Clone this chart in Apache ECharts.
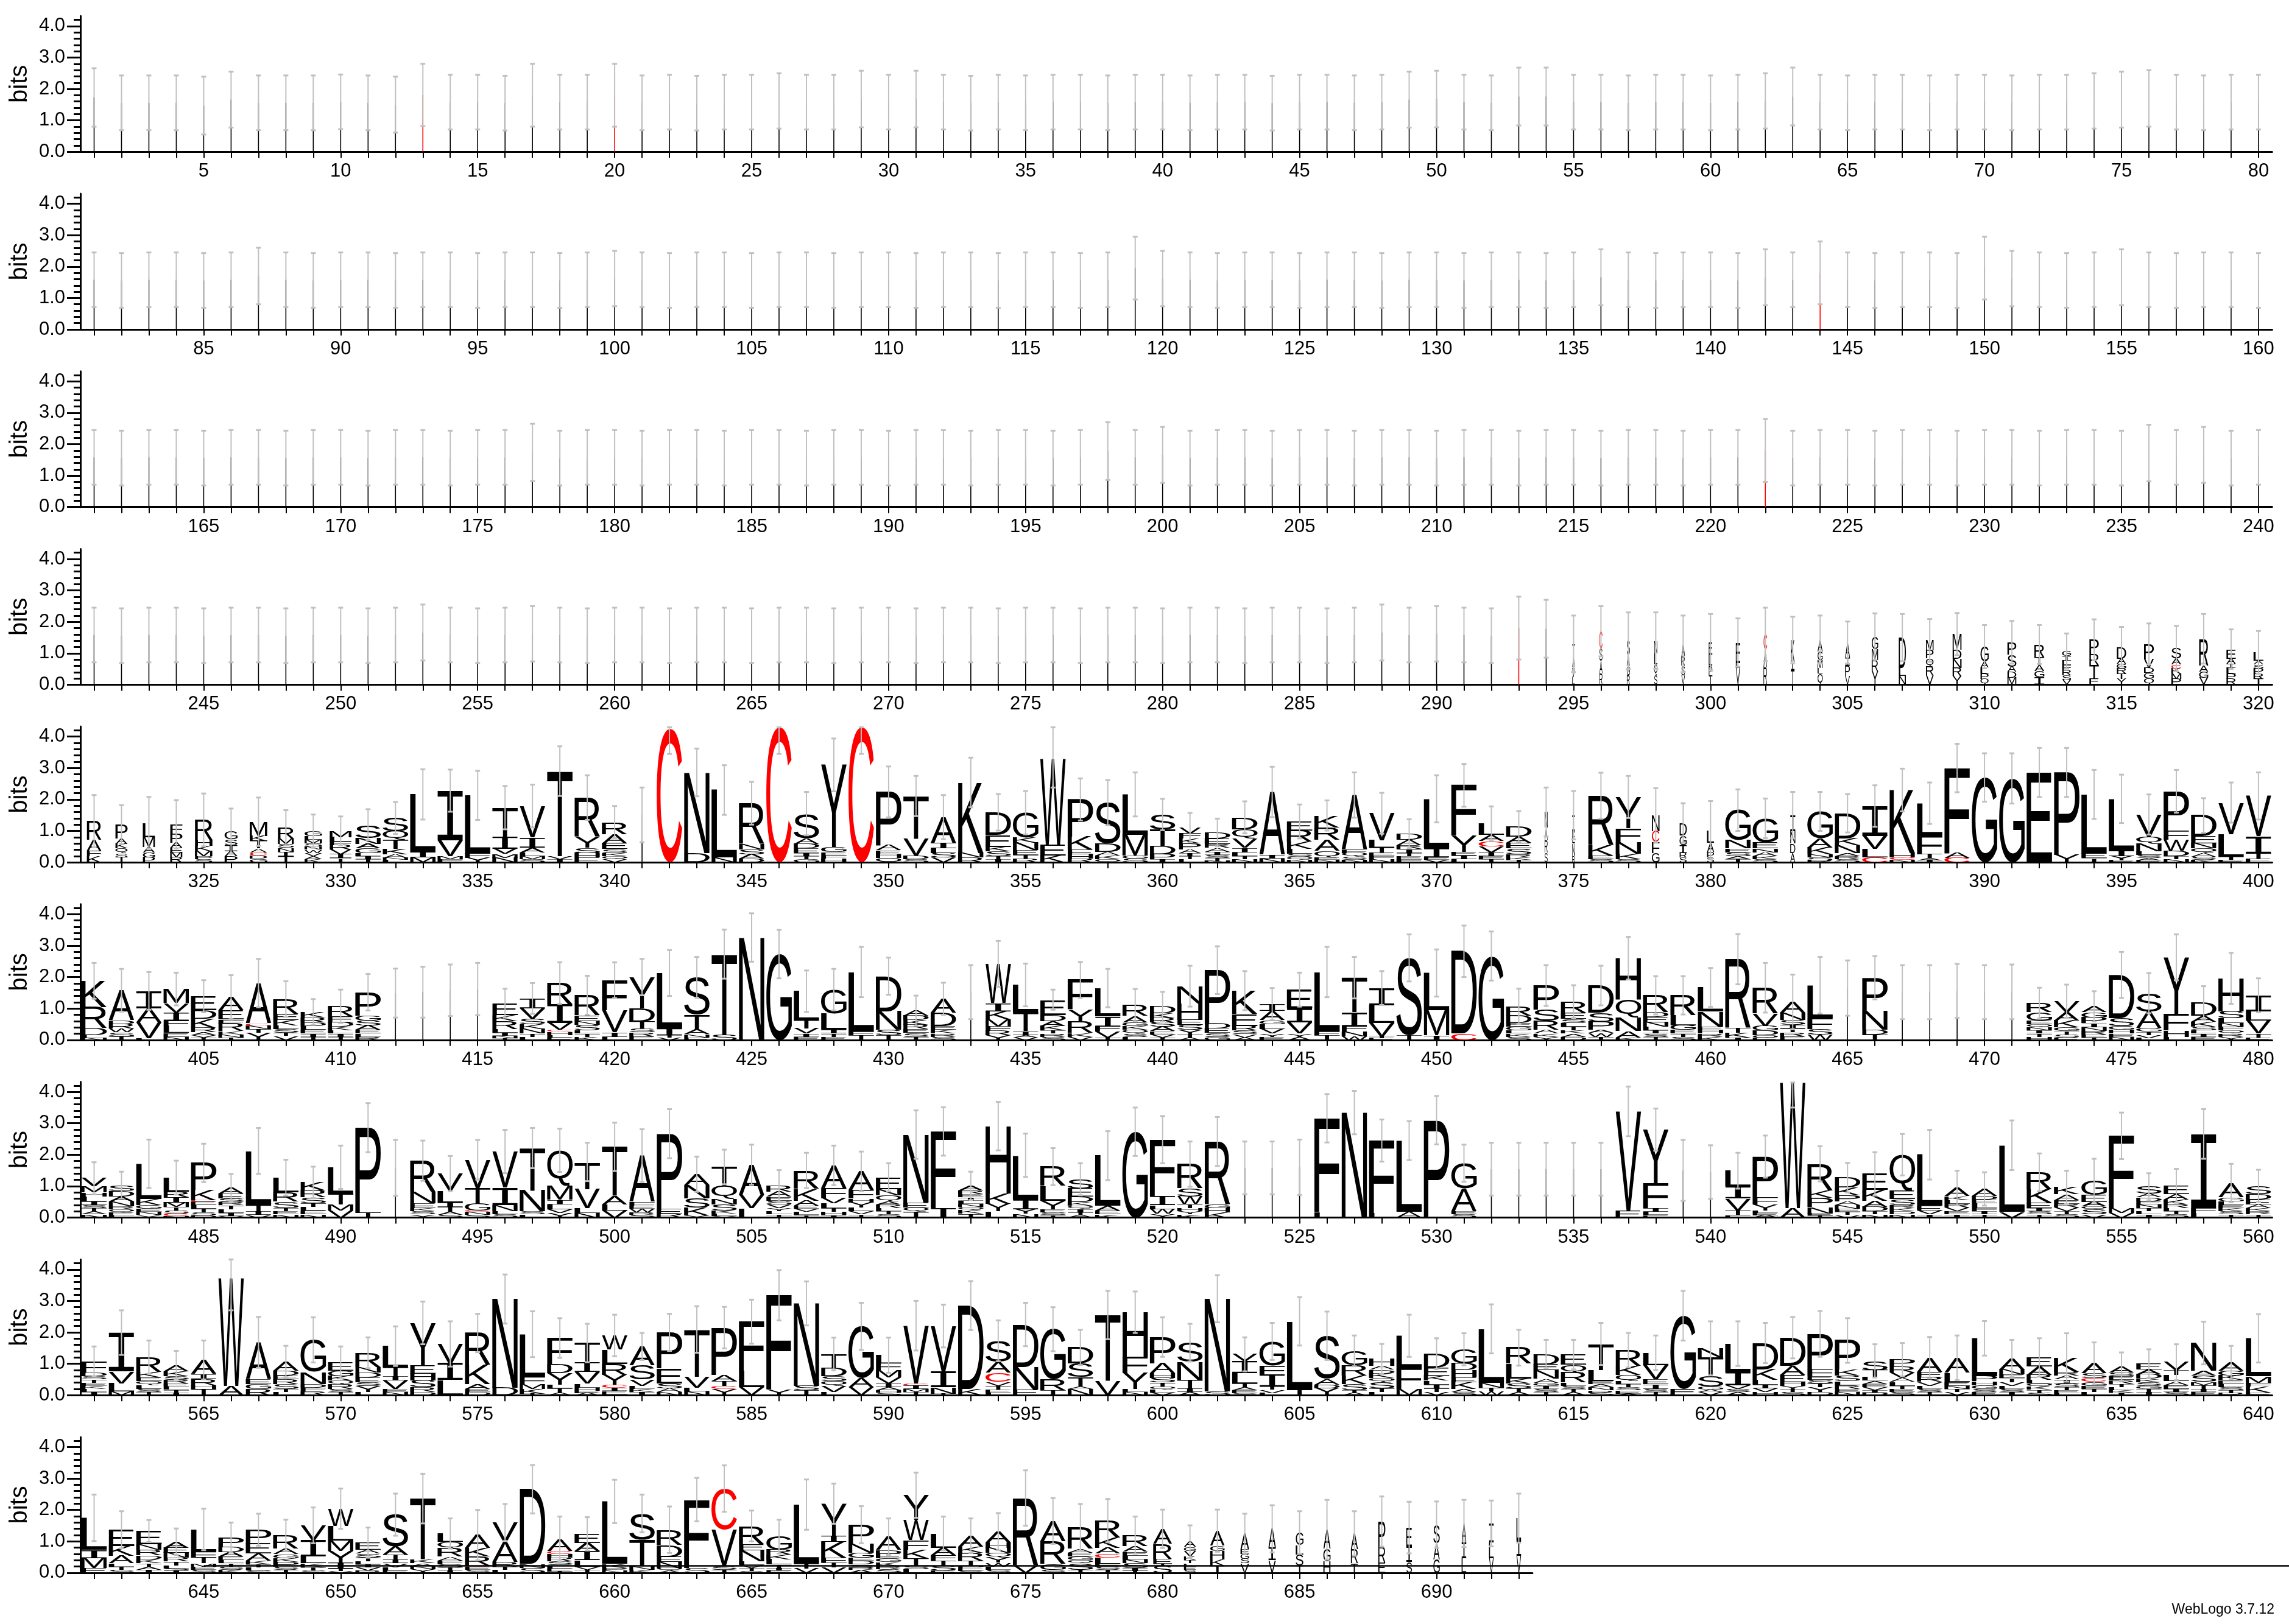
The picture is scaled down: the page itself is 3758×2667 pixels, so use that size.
<!DOCTYPE html>
<html><head><meta charset="utf-8">
<script src="https://cdn.jsdelivr.net/npm/echarts@6/dist/echarts.min.js"></script>
<style>html,body{margin:0;padding:0;background:#fff}#c{width:3758px;height:2667px}</style>
</head><body><div id="c"></div>
<script>
// ---------------- DATA ----------------
const rowStarts = [1, 81, 161, 241, 321, 401, 481, 561, 641];
const rowEnds   = [80, 160, 240, 320, 400, 480, 560, 640, 693];
const yTickValues = [0, 1, 2, 3, 4];
const yMinorTickValues = [0.2,0.4,0.6,0.8,1.2,1.4,1.6,1.8,2.2,2.4,2.6,2.8,3.2,3.4,3.6,3.8,4.2];
const bitsMax = 4.3219;
const creditText = 'WebLogo 3.7.12';

// nearly-all-gap columns 1..294 : stack height and error-bar top (bits)
const thinHeight_1_80 = [1.73,1.56,1.56,1.56,1.47,1.66,1.56,1.56,1.56,1.59,1.56,1.5,1.81,1.58,1.58,1.55,1.8,1.58,1.58,1.8,1.56,1.58,1.55,1.58,1.58,1.62,1.58,1.58,1.68,1.58,1.68,1.58,1.55,1.58,1.56,1.58,1.58,1.56,1.58,1.58,1.56,1.58,1.58,1.55,1.58,1.58,1.56,1.58,1.66,1.68,1.58,1.56,1.76,1.76,1.58,1.58,1.56,1.58,1.58,1.56,1.58,1.62,1.76,1.58,1.56,1.58,1.58,1.56,1.58,1.58,1.56,1.58,1.58,1.62,1.66,1.7,1.58,1.56,1.58,1.58];
const thinErrTop_1_80 = [2.66,2.43,2.43,2.43,2.39,2.55,2.43,2.43,2.43,2.46,2.43,2.39,2.8,2.45,2.45,2.42,2.8,2.45,2.45,2.8,2.43,2.45,2.42,2.45,2.45,2.5,2.45,2.45,2.58,2.45,2.58,2.45,2.42,2.45,2.43,2.45,2.45,2.43,2.45,2.45,2.43,2.45,2.45,2.42,2.45,2.45,2.43,2.45,2.55,2.58,2.45,2.43,2.68,2.68,2.45,2.45,2.43,2.45,2.45,2.43,2.45,2.5,2.68,2.45,2.43,2.45,2.45,2.43,2.45,2.45,2.43,2.45,2.45,2.5,2.55,2.6,2.45,2.43,2.45,2.45];
const thinHeight_81_160 = [1.58,1.56,1.58,1.58,1.56,1.58,1.7,1.58,1.56,1.58,1.58,1.56,1.58,1.58,1.56,1.58,1.58,1.56,1.58,1.62,1.58,1.56,1.58,1.58,1.56,1.58,1.58,1.56,1.58,1.58,1.56,1.58,1.58,1.56,1.58,1.58,1.56,1.58,1.95,1.62,1.58,1.56,1.58,1.58,1.56,1.58,1.58,1.56,1.58,1.58,1.56,1.58,1.58,1.56,1.58,1.66,1.58,1.56,1.58,1.58,1.56,1.66,1.58,1.8,1.58,1.56,1.58,1.58,1.56,1.95,1.62,1.58,1.56,1.58,1.66,1.58,1.56,1.58,1.58,1.56];
const thinErrTop_81_160 = [2.45,2.43,2.45,2.45,2.43,2.45,2.6,2.45,2.43,2.45,2.45,2.43,2.45,2.45,2.43,2.45,2.45,2.43,2.45,2.5,2.45,2.43,2.45,2.45,2.43,2.45,2.45,2.43,2.45,2.45,2.43,2.45,2.45,2.43,2.45,2.45,2.43,2.45,2.95,2.5,2.45,2.43,2.45,2.45,2.43,2.45,2.45,2.43,2.45,2.45,2.43,2.45,2.45,2.43,2.45,2.55,2.45,2.43,2.45,2.45,2.43,2.55,2.45,2.8,2.45,2.43,2.45,2.45,2.43,2.95,2.5,2.45,2.43,2.45,2.55,2.45,2.43,2.45,2.45,2.43];
const thinHeight_161_240 = [1.58,1.56,1.58,1.58,1.56,1.58,1.58,1.56,1.58,1.58,1.56,1.58,1.58,1.56,1.58,1.58,1.74,1.56,1.58,1.58,1.56,1.58,1.58,1.56,1.58,1.58,1.56,1.58,1.58,1.56,1.58,1.58,1.56,1.58,1.58,1.56,1.58,1.78,1.58,1.66,1.56,1.58,1.58,1.56,1.58,1.58,1.56,1.58,1.58,1.56,1.58,1.58,1.56,1.58,1.58,1.56,1.58,1.58,1.56,1.58,1.58,1.8,1.56,1.58,1.58,1.56,1.58,1.58,1.56,1.58,1.58,1.56,1.58,1.58,1.56,1.72,1.58,1.66,1.56,1.58];
const thinErrTop_161_240 = [2.45,2.43,2.45,2.45,2.43,2.45,2.45,2.43,2.45,2.45,2.43,2.45,2.45,2.43,2.45,2.45,2.65,2.43,2.45,2.45,2.43,2.45,2.45,2.43,2.45,2.45,2.43,2.45,2.45,2.43,2.45,2.45,2.43,2.45,2.45,2.43,2.45,2.7,2.45,2.55,2.43,2.45,2.45,2.43,2.45,2.45,2.43,2.45,2.45,2.43,2.45,2.45,2.43,2.45,2.45,2.43,2.45,2.45,2.43,2.45,2.45,2.8,2.43,2.45,2.45,2.43,2.45,2.45,2.43,2.45,2.45,2.43,2.45,2.45,2.43,2.62,2.45,2.55,2.43,2.45];
const thinHeight_241_294 = [1.58,1.56,1.58,1.58,1.56,1.58,1.58,1.56,1.58,1.58,1.56,1.58,1.66,1.58,1.56,1.58,1.62,1.58,1.56,1.58,1.58,1.56,1.58,1.58,1.56,1.58,1.58,1.56,1.58,1.58,1.56,1.58,1.58,1.56,1.58,1.58,1.56,1.58,1.58,1.56,1.58,1.58,1.56,1.58,1.58,1.56,1.58,1.66,1.58,1.62,1.58,1.56,1.8,1.78];
const thinErrTop_241_294 = [2.45,2.43,2.45,2.45,2.43,2.45,2.45,2.43,2.45,2.45,2.43,2.45,2.55,2.45,2.43,2.45,2.5,2.45,2.43,2.45,2.45,2.43,2.45,2.45,2.43,2.45,2.45,2.43,2.45,2.45,2.43,2.45,2.45,2.43,2.45,2.45,2.43,2.45,2.45,2.43,2.45,2.45,2.43,2.45,2.45,2.43,2.45,2.55,2.45,2.5,2.45,2.43,2.8,2.7];
const redThinColumns = [13, 20, 144, 222, 293];

// letter stacks: top -> bottom, "Letter+bits"; "w.x:" = column weight; "~h" = near-empty column
const stacks_295_320 = ["w.1:T.4 A.35 V.3 L.25","w.12:C.55 S.4 A.4 R.35","w.12:S.45 A.35 G.3 R.3","w.12:N.4 L.35 Q.35 S.3","w.14:A.4 R.3 S.3 V.3","w.14:E.4 L.35 P.3 T.3","w.17:E.65 L.15 V.54","w.14:C.48 A.58 R.54","w.14:K.7 I.24 T.48","w.2:A.38 G.29 M.24 L.18 Q.35","w.19:A.48 I.25 P.33 V.28","w.25:G.4 M.35 R.35 Y.43","w.28:D.96 L.26 N.28","w.3:M.31 P.26 Q.26 R.29 V.29","w.35:M.49 D.29 N.29 R.26 Y.28","w.32:G.48 A.19 L.19 P.16 Q.19","w.35:P.4 S.38 A.16 D.19 M.22","w.39:R.4 T.25 A.2 G.2 I.23","w.35:G.15 I.15 L.15 F.15 R.17 S.15 V.15","w.37:P.46 R.35 T.42 E.2","w.37:D.38 A.16 G.16 R.16 T.16 Y.19","w.39:P.48 V.29 D.16 G.18 Q.19","w.39:S.32 A.19 C.13 K.16 M.16 P.19","w.36:R.86 A.19 G.19 V.22","w.37:E.3 A.16 I.13 L.19 P.16 R.19","w.39:L.26 A.13 S.13 P.16 R.16 T.19"];
const errTop_295_320 = [2.2,2.5,2.3,2.3,2.2,2.25,2.11,2.45,2.16,2.2,2.01,2.27,2.25,2.09,2.28,1.9,2.03,1.9,1.63,2.08,1.84,1.95,1.87,2.25,1.76,1.71];

const stacks_321_400 = ["w.57:R.6 A.35 F.16 K.2","w.48:P.45 A.16 K.14 Q.16 S.13 T.16","w.48:L.45 M.32 A.16 G.16 P.16","w.48:F.29 P.29 A.16 E.15 M.16 R.16","w.69:R.64 H.19 K.16 M.16 P.1 S.1","w.51:G.26 S.19 I.19 A.16 P.19","w.69:M.45 K.16 T.24 A.13 C.1 D.1 G.11","w.63:R.35 M.16 S.13 N.13 I.13 T.2","w.69:G.15 L.12 M.12 S.1 N.1 W.1 V.1 A.1 K.1","w.86:M.2 L.14 F.12 R.14 V.14 I.13 T.13",
"S.42 N.19 A.14 G.15 L.1 I.1 T.1","S.43 Q.27 T.29 K.16 A.12 N.06 L.08","L1.85 I.16 M.15","I1.58 V.5 M.1 F.1","L1.85 F.14 Y.14","T.93 I.38 V.16 M.13 N.14","V1.0 I.32 A.15 L.12 M.1 S.1","T2.7 V.1 I.1","R1.25 Y.35 S.16 H.15 E.15","R.38 A.29 E.19 S.12 K.1 Q.1 V.1",
"~1.51","C4.25","N2.56 D.3","L2.15 N.15","R1.3 N.18 S.14 A.15 D.11","C4.3","S.78 A.18 D.15 E.14 I.1 T.1 G.1","Y2.62 G.16 E.1 F.1 H.12","C4.3","P1.7 A.16 E.12 H.12 Q.14",
"T1.35 V.54 D.12 S.1","A.83 I.16 L.15 S.15 V.15","K2.24 N.15 R.15","D.72 E.38 K.14 S.15 T.1 I.1","G.8 K.16 N.24 E.14 T.12 R.12","W2.72 E.35 K.22","P1.18 K.42 E.14 H.14 R.12","S1.3 D.26 A.12 K.12 Q.1","L1.28 M.66 G.1 S.12","S.48 T.52 D.26 P.16 I.1",
"w.86:V.19 F.16 K.15 P.19 A.12 I.1 T.09 L.1","D.19 E.17 R.13 A.12 I.1 S.1 T.1 N.04","D.38 Q.29 V.29 I.15 L.12 T.1 N.1","A2.0 I.12 N.12","E.29 R.36 K.22 L.15 S.1 Q.1 N.08","K.38 R.4 A.35 Q.2 E.08 N.08","A1.72 F.12 Q.12 S.1 N.08","V.86 L.24 T.14 E.12 F.1 N.1","D.19 A.17 R.13 I.12 T.1 E.1 F.1","L1.57 I.29 E.08 V.08",
"F1.6 Y.51 E.12 I.12 L.1","L.36 A.2 C.16 V.19 I.12 E.1 T.1","D.32 A.2 E.18 S.18 R.1 K.08 T.08","w.12:N.5 A.4 R.4 S.3","w.1:I.5 E.4 N.4 R.2","R1.57 K.33 E.12 S.1","Y1.0 F.43 N.38 K.17 S.1","w.3:N.5 C.35 F.35 G.3","w.28:D.4 G.3 I.25 R.15 S.15","w.28:L.4 A.3 P.18 S.15",
"G.96 N.26 E.12 S.12 A.1 T.1","G.77 E.19 N.12 A.12 K.1 S.1","w.2:I.5 N.4 D.3 A.3","G.86 A.29 K.21 N.1 S.1 R.06","D.8 K.22 N.24 A.1 R.1 S.1","I.95 V.42 L.26 C.16","K2.0 H.15 C.08 N.07","L1.02 F.6 T.14 A.06 I.06","F2.7 A.16 C.14","G2.7",
"G2.67","E2.86","P2.62 Y.24","L1.89 E.14 T.13","L1.66 I.16 Y.14 E.06","V.7 Q.22 N.24 L.12 S.1 A.08 E.06","P1.25 F.29 W.35 D.17 T.1 N.1","D.66 E.22 N.16 Q.15 A.12 S.1 K.08","V1.0 L.72 T.1 E.08","V1.28 I.55 T.16 E.12"];
const errTop_321_400 = [2.14,1.82,2.08,1.98,2.19,1.71,2.06,1.66,1.52,1.46,1.69,1.92,2.96,2.95,2.91,2.43,2.47,3.69,2.77,1.79,2.38,4.3,3.62,3.09,2.56,4.3,2.24,3.94,4.3,3.05,2.75,2.14,3.33,2.17,2.27,4.3,2.67,2.62,2.86,2.02,1.57,1.39,1.94,3.04,1.84,1.97,2.86,2.21,1.37,2.77,3.13,1.78,1.63,2.38,2.27,2.85,2.75,2.36,1.88,1.95,2.32,2.03,2.24,2.24,2.17,2.45,2.98,2.54,3.77,3.47,3.47,3.64,3.64,2.94,2.79,2.16,2.94,2.04,2.54,2.86];

const stacks_401_480 = ["K.83 R.67 D.22 L.1 N.06","A.95 D.13 R.14 W.12 S.12 T.12","I.56 A.45 V.5 L.05","M.45 V.3 I.25 F.18 L.22 E.12 N.1","E.45 D.26 K.29 R.14 A.1 V.08 T.07","A.42 E.29 F.13 R.24 K.1 N.1 T.08","A1.28 C.06 N.12 T.12 Y.23","R.48 E.19 K.16 L.12 S.12 T.1 V.13","K.18 R.15 D.12 L.12 E.12 I.1 T.1","R.32 E.19 D.14 K.12 L.1 I.1 T.1",
"P.74 G.16 S.16 A.14 E.12 L.1 R.1","~1.49","~1.52","~1.58","~1.62","E.38 K.2 R.24 L.12 I.1 N.08 T.05","I.32 V.32 S.19 K.15 N.14 T.1 L.1","R.67 I.6 V.22 C.06 H.1 L.08 E.08","R.64 E.18 N.12 S.18 L.1 T.1 K.1","F.95 V.7 I.15 L.1",
"Y1.0 D.42 T.22 S.12 R.12 E.12","L1.76 I.22 T.08 V.07","S1.18 T.48 A.15 N.1 E.08","T2.55 S.18","N3.26","G2.73","L.93 T.26 V.16 I.1 E.1","G.77 L.51 I.12 T.1 E.1","L1.89 F.12 T.15","D1.12 N.59 S.17 T.15",
"A.16 D.14 K.15 R.14 E.12 S.12 T.1","A.45 D.42 E.12 K.12 R.1 S.1","~1.52","W1.25 I.26 K.26 M.22 F.14 R.14 Y.15","L.87 T.6 I.12 A.08 V.08","E.48 D.2 A.15 K.15 T.1 R.1 S.1","F.93 Y.38 R.38 K.12 V.1","L.9 I.32 F.16 V.2 T.07","R.35 A.2 G.12 K.12 Q.12 S.1 L.1","D.22 K.14 R.14 S.14 A.14 E.1 V.1 T.08",
"N.55 H.52 E.16 S.15 Y.15 T.12 A.06","P1.7 D.16 E.14 S.12 G.1","K.74 E.38 R.15 S.12 V.1 A.08","I.22 A.29 G.13 L.15 V.15 Y.1 E.1","E.6 I.45 V.35 Y.1 A.1","L1.89 F.12 T.15","T1.1 I.45 F.16 N.15 W.12","I.55 L.56 V.42 T.06 E.06","S2.46 T.15","L1.18 M.8 I.15",
"D2.62 C.2","G2.67","R.3 D.24 E.11 G.12 L.1 K.1 S.1","P.77 S.35 R.29 A.12 K.1 Y.1","R.35 E.2 S.13 L.12 T.12 K.1 A.1 D.1","D.86 S.29 P.26 A.1 W.12 T.1","H1.31 Q.58 N.43 A.2 K.08","R.54 D.15 E.17 N.14 L.12 I.1 S.1 T.1","R.64 L.32 G.14 E.12 T.1 S.1","L.77 N.48 E.12 H.1 R.1 K.1",
"R2.2 T.15 K.15 I.07","R.82 V.4 G.14 D.14 Q.1 E.06","A.35 N.22 S.16 I.12 T.12 R.12 E.12","L1.05 F.35 S.17 W.17","~1.65","P1.05 N.6 D.15 T.18","~1.52","~1.52","~1.56","~1.52",
"~1.53","R.29 G.26 E.12 Q.1 N.1 I.1 T.1 H.1","V.35 A.26 K.22 G.12 T.1 S.1 E.08","A.19 G.16 P.19 I.12 N.12 R.12 E.1 T.07","D1.37 S.26 G.12 H.12 E.1 N.1","S.6 A.51 G.12 T.1 V.1 L.06","Y1.82 F.51 H.2 L.1","D.42 A.2 K.15 S.12 L.1 I.1 E.1","H1.05 S.22 L.15 N.12 F.12 Q.1 R.1 Y.1","I.51 L.29 V.42 T.12 E.08"];
const errTop_401_480 = [2.45,2.26,2.16,2.14,1.9,2.06,2.58,1.87,1.3,1.6,2.1,2.27,2.33,2.4,2.45,1.63,1.81,2.47,2.04,2.47,2.58,2.86,2.64,3.51,4.03,3.5,2.21,2.26,2.96,2.62,1.41,1.82,2.38,3.15,2.43,1.6,2.48,2.26,1.62,1.53,2.36,2.98,2.19,1.65,2.14,2.96,2.64,2.19,3.36,2.88,3.64,3.45,1.63,2.38,1.74,2.36,3.28,2.03,2.03,2.29,3.37,2.45,2.08,2.64,2.53,2.67,2.38,2.38,2.42,2.38,2.4,1.66,1.76,1.55,2.8,2.13,3.36,1.71,2.77,1.96];

const stacks_481_560 = ["V.26 M.19 H.13 L.15 I.12 S.1 T.1 A.1 N.1","S.19 D.18 A.15 N.15 R.1 Q.1 E.1 L.06","L1.12 K.19 G.12 E.1 N.1 Y.08","L.45 R.18 I.16 M.15 T.1 S.1 C.08 N.05","P.86 K.32 C.04 E.12 L.12 T.12 S.1 D.06","A.19 E.15 S.12 R.1 T.12 L.12 I.1 V.05","L1.72 T.2 I.12 V.08","L.46 R.3 S.21 T.1 E.1 N.1","K.26 R.22 S.18 T.12 L.12 E.12 N.1","L.83 T.35 M.2 V.22",
"P2.7 T.16","~1.58","R.99 N.37 E.15 K.1 S.1 Y.1","V.54 L.38 I.15 T.15 A.1 S.08","V.9 T.5 G.22 C.04 N.1 S.08","V1.15 I.55 N.2 L.1 S.1","T1.34 N.67 S.1 L.1","Q1.12 M.45 I.15 L.15 V.12 Y.15","T.86 V.61 L.15 N.15","T1.57 A.26 L.2 V.22",
"A1.47 F.12 E.1 W.12 R.08 S.08","P2.4 E.15 R.12","A.35 N.42 S.3 K.25 Y.06","T.59 Q.42 N.18 S.2 K.1 L.08 Y.04","A.96 V.42 L.3","R.19 A.16 E.12 S.12 V.12 Y.1 L.1 T.1","R.58 K.38 A.16 E.1 V.1 L.1 T.08","A.73 F.32 V.16 L.15 T.12 H.1 I.08","A.6 F.26 H.13 Y.16 L.12 V.1 T.1","E.38 N.2 Q.18 A.1 R.12 L.1 T.1 S.1",
"N2.17 E.15 Q.12 T.2","F2.44 I.3","A.14 R.13 E.1 I.1 L.1 N.1 Q.1 K.12 T.12","H2.14 K.33 Y.24 L.2","L1.4 I.31 Y.15 N.12","R.61 L.48 Y.27 E.1 S.08 T.08","S.3 E.26 D.17 K.12 Q.1 I.1 T.1 A.07","L1.6 A.15 E.12 K.1","G2.73","F1.79 I.29 L.13 W.15 Y.12",
"R.77 S.26 W.24 T.13 H.1 Y.1 K.1","R2.0 G.12 H.14 K.16","~1.58","~1.58","~1.6","F2.98 L.18","N3.34","F2.3 L.15","L2.27 A.18","P3.1",
"G.8 A.73 E.1 S.1","~1.54","~1.54","~1.54","~1.54","~1.54","V3.16 E.22","Y1.7 F.8 I.12 L.1 E.08","~1.5","~1.45",
"L.5 I.38 V.38 T.15 F.08","P1.3 F.22 Y.2 L.08 E.08 A.06","W4.0 A.3","R.86 K.22 P.3 N.2 E.06 T.07","D.32 K.24 P.19 A.12 N.12 E.1 T.1 V.08","E.51 K.35 A.19 D.14 T.1 N.1","Q1.15 E.26 S.19 R.1 K.1 D.1 N.1","L1.63 E.15 V.12 I.1","A.26 K.12 L.12 R.12 V.12 E.1 I.1","A.22 D.12 E.12 L.15 F.1 I.1 T.1",
"L2.12 V.18","R.54 K.42 E.18 I.1 S.1 T.1","K.22 A.18 E.12 R.12 V.12 T.1 S.1","G.45 E.22 A.15 Q.1 S.15 V.1","F2.3 M.15 V.15","S.22 A.12 D.12 E.1 N.12 T.1 L.1 I.1","E.26 A.18 K.15 R.12 L.1 T.1 S.1","I2.36 F.15 L.15","A.45 G.13 L.12 E.1 K.1 S.1 T.1","S.26 D.18 E.15 A.12 K.1 R.1 T.1"];
const errTop_481_560 = [1.76,1.46,2.48,1.81,2.35,1.39,2.85,1.84,1.62,2.29,3.64,2.47,2.45,1.96,2.47,2.79,2.85,2.83,2.38,3.02,2.81,3.45,1.94,2.16,2.32,1.51,2.06,2.29,2.1,1.73,3.41,3.51,1.46,3.68,2.67,2.21,1.73,2.75,3.5,3.23,2.42,3.2,2.42,2.42,2.48,3.93,4.03,3.12,3.07,3.87,2.32,2.38,2.38,2.38,2.38,2.38,4.17,3.47,2.47,2.3,2.06,2.61,4.3,2.27,1.74,2.08,2.66,2.79,1.49,1.44,3.09,2.04,1.49,1.87,3.34,1.41,1.55,3.45,1.71,1.52];

const stacks_561_640 = ["F.35 D.12 S.1 T.1 E.1 K.1 L.1 I.1","I1.23 V.38 L.26 M.12","R.48 K.16 E.13 Q.12 L.12 S.1 T.1","A.19 K.15 S.12 R.12 E.1 L.1 T.1 I.07","A.45 I.15 R.2 H.12 T.2","W3.42 A.3","A1.18 E.15 G.15 R.2","A.3 D.15 E.12 R.15 S.15 T.1 L.1","G1.02 N.38 D.12 F.12 R.12","E.26 G.17 K.14 Q.12 R.15 S.1 T.1",
"R.45 N.18 D.15 E.15 S.12 Y.2 L.1","L.66 T.29 I.15 V.26 E.1 N.1","Y1.35 E.27 H.21 S.22 R.15 D.1","V.61 I.54 L.48","R1.02 K.61 A.15 E.1 D.1","N2.82 D.24","L1.37 F.22 M.15 K.15 T.05","F.83 D.29 Y.37 L.12 T.15 A.06","T.59 I.32 V.38 L.13 H.1 E.08 A.06","W.45 L.45 R.35 Y.32 C.1 I.1 E.1 S.03",
"A.6 S.45 V.2 L.1 K.1 I.1","P1.15 E.48 S.15 A.12 N.1","T1.5 V.35 L.12 N.12","P1.5 A.2 T.15 C.1 Y.2","F1.58 L.51 V.25","F3.0 Y.18","N2.62 S.15 T.15","T.45 D.26 S.15 Q.15 V.2 L.1","G1.65 A.29 V.25","L.26 F.22 M.22 V.19 I.12 A.1 H.08 S.08",
"V1.84 C.05 I.12 M.1 T.1","V1.44 I.51 N.2 T.05","D2.65 K.2","S.67 A.35 C.29 V.12 T.12 E.1 L.08","D1.35 N.73 E.17","G1.6 R.35 T.15","D.51 S.43 T.3 A.08 N.2","T2.1 V.45","H1.42 F.51 Y.51 L.1 N.1","P.83 A.32 H.15 S.15 T.12 Q.1 L.1 V.08",
"S.61 N.58 T.26 I.12 A.1","N2.95 S.12","V.22 I.38 L.32 T.12 A.1 E.1 S.06","G.77 F.29 I.38 T.1 V.1 L.07","L2.17 T.18","S1.37 A.18 D.12 Y.22","G.46 R.32 K.27 S.2 T.1 A.06","H.22 A.12 D.12 K.15 Q.12 S.2 T.12 L.1","L1.02 F.67 M.2","D.45 E.26 K.15 L.12 I.12 T.12 V.1",
"G.45 D.22 H.22 E.15 K.22 A.1 S.1","L1.72 N.15 T.12 W.12","R.51 L.48 K.15 S.15 T.12 A.1","D.32 E.19 N.27 A.12 G.1 I.1 S.1 T.1","E.32 Q.26 R.31 L.1 S.1 T.1 A.1","T.83 L.35 E.1 A.1 N.1 R.08 S.07","R.49 K.29 Q.2 L.1 T.1 S.1 E.1 A.05","L.4 V.45 E.15 I.15 S.1 T.1","G2.33 E.2","N.29 T.6 S.32 G.1 A.08 V.1",
"L.9 I.42 V.12 S.1 A.1","D.84 K.34 L.14 I.12 V.12 H.1","D.9 A.29 E.22 H.12 Y.1 T.1 S.1","P1.12 F.22 E.12 S.12 T.12 Y.15 D.1","P.93 K.19 S.18 L.12 R.12 E.1 N.1","S.29 T.22 L.12 A.1 E.1 V.1 I.08 D.08","P.22 R.19 V.18 A.12 L.12 T.1 E.1 S.1","A.45 E.18 R.14 V.12 L.1 S.1 T.1","A.48 L.29 E.12 N.1 T.1 V.1","L1.21 P.16 H.12 G.12 S.1 E.1",
"A.35 N.16 E.12 T.12 V.12 L.1 S.1 I.1","E.29 A.26 R.16 L.12 Q.1 K.1 T.1 S.07","K.45 R.13 A.12 I.12 S.12 T.1 E.1 L.06","A.32 S.15 C.12 G.12 E.1 T.1 L.1","A.19 S.12 E.12 R.12 T.1 L.1 K.08 I.08","E.19 A.15 D.15 K.1 S.12 G.1 T.1 I.1","V.26 T.15 L.2 A.12 E.12 I.1 S.1","N.89 A.15 S.2 M.1 T.12 I.1 E.1","A.26 G.15 K.15 E.12 L.1 S.1 T.1 R.06","L1.21 M.2 F.12 K.2 E.08"];
const errTop_561_640 = [1.55,2.7,1.74,1.41,1.74,4.32,2.49,1.57,2.48,1.55,1.84,2.19,2.98,2.35,2.59,3.84,2.67,2.45,2.27,2.56,1.98,2.59,2.83,2.81,3.04,3.98,3.62,1.83,2.94,1.83,3.0,2.88,3.63,2.38,2.94,2.8,2.08,3.32,3.3,2.48,2.27,3.82,1.84,2.3,3.12,2.66,1.9,1.63,2.56,1.81,1.97,2.89,2.08,1.76,1.76,2.3,1.98,1.9,3.32,2.35,2.35,2.3,2.49,2.68,2.45,1.62,1.66,1.85,1.9,2.36,1.76,1.81,1.97,1.68,1.36,1.46,1.62,2.34,1.57,2.58];

const stacks_641_693 = ["L1.02 I.26 M.32 E.15","E.51 K.32 A.24 L.1 T.1 S.1","E.42 N.18 R.18 D.13 K.12 T.1 A.1 I.1","A.19 E.16 N.16 R.12 T.12 L.1 S.07 I.07","L.7 F.19 T.19 M.1 E.1 S.1","P.29 D.17 A.14 E.12 L.1 T.1 S.1 K.1","P.45 E.31 A.22 K.12 T.1 L.1 S.07","R.42 A.18 G.12 K.12 P.15 S.1 T.1","V.46 I.53 L.22 K.12 T.1 S.08","W.54 L.48 M.32 Y.37 I.2 T.08 V.05",
"E.22 A.13 S.12 T.12 L.1 I.1 V.1 R.07","S1.02 A.26 T.15 I.12 V.12 L.1 E.08","T1.94 K.12 A.08 N.1 Y.12","L.26 Q.22 R.26 A.12 F.12 S.1 T.1 I.07","A.42 K.26 R.29 C.03 E.1 S.1","V.61 A.64 R.15 T.1 L.1","D2.38 N.12 S.16","A.38 C.1 H.12 R.12 S.12 L.1 E.1 T.04","E.29 A.26 I.29 L.2 V.1 T.1","L1.98 K.13 P.08 N.08",
"S.83 T.83 N.13 K.1","R.48 D.38 E.16 N.2 Q.08 A.07","F2.17 S.16","C1.3 V1.15 S.13 T.1","R.58 E.19 N.35 L.12 V.1 T.1 S.05","G.42 R.16 K.15 L.16 T.1 I.08 E.08","L1.88 T.15 V.14","Y1.02 I.2 K.5 F.15 T.15 V.18","P.6 N.29 G.16 E.1 D.12 S.1 R.06 A.1","A.42 D.13 E.14 G.12 K.12 R.1 S.12",
"Y.78 W.65 F.3 K.28 T.22 S.12 L.12","L.45 A.24 F.18 T.15 S.15 E.08","A.35 K.2 R.24 T.15 P.1 E.08 S.06","A.35 H.16 N.16 Q.16 Y.16 W.12 L.1 S.1","R2.16 V.22","A.64 R.73 G.18 S.1","R.67 A.13 E.12 G.12 Q.1 S.2 T.1","R.54 K.32 A.19 C.12 L.2 E.1 S.1 T.09","R.35 A.18 E.12 L.12 N.12 S.15 I.1 T.06","w.74:A.48 R.48 E.15 T.07 S.22",
"w.48:A.16 G.13 V.18 K.12 T.1 L.1 E.1 S.1","w.57:A.48 G.16 H.27 K.2 T.23","w.34:A.5 E.15 G.15 S.15 V.3","w.29:A.6 I.4 V.4","w.3:G.4 L.3 S.35 T.23","w.28:A.6 G.4 H.37","w.28:A.5 R.45 T.3","w.28:P.8 R.5 E.33","w.22:E.6 I.5 S.34","w.25:S.6 A.5 G.43",
"w.18:A.6 I.5 L.47","w.18:I.6 L.5 V.47","w.18:L.7 I.5 V.54"];
const errTop_641_693 = [2.49,1.96,1.68,1.41,2.04,1.6,1.88,1.69,2.08,2.68,1.44,2.52,3.15,1.73,2.0,2.19,3.43,1.79,1.77,2.96,2.49,2.11,3.02,3.42,1.98,1.69,2.97,2.84,2.12,1.73,3.19,1.79,1.73,1.9,3.26,2.38,2.19,2.35,1.79,2.01,1.51,2.01,1.88,2.15,1.96,2.32,1.96,2.43,2.26,2.27,2.32,2.3,2.52];

// error bars whose upper end is clipped at the axis top: lower end (bits)
const errLowClipped = {342: 3.45, 346: 3.45, 349: 3.45, 356: 2.38, 543: 3.5, 566: 2.7};
// stray rule in the last row: start position and height in bits
const strayRuleStart = 644.6;
const strayRuleBits = 0.22;

// ---------------- BUILD ----------------
const info = {};
function addThin(start, hs, tops) {
  hs.forEach((h, i) => { const p = start + i; info[p] = {thin: true, h: h, errTop: tops[i], red: redThinColumns.indexOf(p) >= 0}; });
}
function parseStack(s) {
  s = s.trim();
  if (s[0] === '~') return {thin: true, h: parseFloat(s.slice(1)), red: false};
  let w = 1;
  if (s[0] === 'w') { const c = s.indexOf(':'); w = parseFloat(s.slice(1, c)); s = s.slice(c + 1); }
  const letters = s.split(/\s+/).map(t => ({ch: t[0], h: parseFloat(t.slice(1))}));
  return {thin: false, w: w, letters: letters, h: letters.reduce((a, b) => a + b.h, 0)};
}
function addStacks(start, arr, tops) {
  arr.forEach((s, i) => { const p = start + i; const d = parseStack(s); d.errTop = tops[i]; info[p] = d; });
}
addThin(1, thinHeight_1_80, thinErrTop_1_80);
addThin(81, thinHeight_81_160, thinErrTop_81_160);
addThin(161, thinHeight_161_240, thinErrTop_161_240);
addThin(241, thinHeight_241_294, thinErrTop_241_294);
addStacks(295, stacks_295_320, errTop_295_320);
addStacks(321, stacks_321_400, errTop_321_400);
addStacks(401, stacks_401_480, errTop_401_480);
addStacks(481, stacks_481_560, errTop_481_560);
addStacks(561, stacks_561_640, errTop_561_640);
addStacks(641, stacks_641_693, errTop_641_693);

const FONT_PX = 200;
const LOGO_FONT = FONT_PX + 'px "Liberation Sans", Arial, sans-serif';
const SERIF_I_FONT = FONT_PX + 'px "Liberation Mono", "DejaVu Sans Mono", monospace';
function fontFor(ch) { return ch === 'I' ? SERIF_I_FONT : LOGO_FONT; }
const mctx = document.createElement('canvas').getContext('2d');
const metricCache = {};
function glyph(ch) {
  if (!metricCache[ch]) {
    mctx.font = fontFor(ch); mctx.textBaseline = 'middle'; mctx.textAlign = 'left';
    const m = mctx.measureText(ch);
    const g = {A: m.actualBoundingBoxAscent, D: m.actualBoundingBoxDescent, L: m.actualBoundingBoxLeft, R: m.actualBoundingBoxRight};
    g.W = g.L + g.R; g.H = g.A + g.D;
    metricCache[ch] = g;
  }
  return metricCache[ch];
}

const GRAY = '#c0c0c0';
function makeRender(rowStart) {
  return function (params, api) {
    const pos = rowStart + params.dataIndex;
    const d = info[pos];
    const idx = api.value(0);
    const base = api.coord([idx, 0]);
    const ppb = api.size([0, 1])[1];
    const band = api.size([1, 0])[0];
    const cx = base[0], by = base[1];
    const children = [];
    if (d.thin) {
      children.push({type: 'rect', shape: {x: cx - 0.8, y: by - d.h * ppb, width: 1.6, height: d.h * ppb},
        style: {fill: d.red ? '#ff0000' : '#000000'}});
    } else {
      const wpx = band * 0.93 * d.w;
      const x0 = cx - wpx / 2;
      let cum = 0;
      for (let k = d.letters.length - 1; k >= 0; k--) {
        const L = d.letters[k];
        const hpx = L.h * ppb;
        const yBot = by - cum * ppb;
        cum += L.h;
        const yTop = yBot - hpx;
        const g = glyph(L.ch);
        const sx = wpx / g.W, sy = hpx / g.H;
        children.push({type: 'text', x: x0 + g.L * sx, y: yTop + g.A * sy, scaleX: sx, scaleY: sy,
          style: {text: L.ch, font: fontFor(L.ch), fill: L.ch === 'C' ? '#ff0000' : '#000000',
                  align: 'left', verticalAlign: 'middle', textAlign: 'left', textVerticalAlign: 'middle'}});
      }
    }
    const top = Math.min(d.errTop, bitsMax);
    let low = errLowClipped[pos] != null ? errLowClipped[pos] : 2 * d.h - d.errTop;
    if (low < 0) low = 0;
    const yT = by - top * ppb, yL = by - low * ppb;
    children.push({type: 'line', shape: {x1: cx, y1: yT, x2: cx, y2: yL}, style: {stroke: GRAY, lineWidth: 2}});
    children.push({type: 'line', shape: {x1: cx - 4, y1: yT, x2: cx + 4, y2: yT}, style: {stroke: GRAY, lineWidth: 3}});
    children.push({type: 'line', shape: {x1: cx - 4, y1: yL, x2: cx + 4, y2: yL}, style: {stroke: GRAY, lineWidth: 3}});
    return {type: 'group', children: children};
  };
}

const axisLeft = 132, colW = 44.98, axisH = 223, base0 = 249.3, rowStep = 291.7;
const grids = [], xAxes = [], yAxes = [], series = [];
const LABEL_FONT = 'Liberation Sans';
rowStarts.forEach((start, r) => {
  const end = rowEnds[r];
  const n = end - start + 1;
  const cats = [];
  for (let p = start; p <= end; p++) cats.push(String(p));
  grids.push({left: axisLeft, top: base0 + r * rowStep - axisH, width: n * colW, height: axisH, containLabel: false, outerBoundsMode: 'none'});
  xAxes.push({type: 'category', gridIndex: r, data: cats, boundaryGap: true, position: 'bottom',
    axisLine: {show: true, onZero: false, lineStyle: {color: '#000', width: 3}},
    axisTick: {show: true, alignWithLabel: true, interval: 0, length: 10, lineStyle: {color: '#000', width: 2}},
    axisLabel: {show: true, interval: (i, v) => Number(v) % 5 === 0, fontSize: 31, fontFamily: LABEL_FONT, color: '#000', margin: 17},
    splitLine: {show: false}});
  yAxes.push({type: 'value', gridIndex: r, min: 0, max: bitsMax, interval: 1, position: 'left',
    axisLine: {show: true, onZero: false, lineStyle: {color: '#000', width: 3}},
    axisTick: {show: true, length: 22, lineStyle: {color: '#000', width: 3}, customValues: yTickValues},
    axisLabel: {show: true, customValues: yTickValues, formatter: v => Number(v).toFixed(1), fontSize: 31, fontFamily: LABEL_FONT, color: '#000', margin: 25},
    splitLine: {show: false}, minorTick: {show: false},
    name: 'bits', nameLocation: 'middle', nameGap: 62, nameRotate: 90,
    nameTextStyle: {fontSize: 40, fontFamily: LABEL_FONT, color: '#000'}});
  yAxes.push({type: 'value', gridIndex: r, min: 0, max: bitsMax, interval: 0.2, position: 'left',
    axisLine: {show: false}, axisLabel: {show: false}, splitLine: {show: false},
    axisTick: {show: true, length: 11, lineStyle: {color: '#000', width: 3}, customValues: yMinorTickValues}});
  const data = [];
  for (let p = start; p <= end; p++) data.push([p - start, info[p].h]);
  series.push({type: 'custom', xAxisIndex: r, yAxisIndex: 2 * r, data: data, renderItem: makeRender(start), clip: false, silent: true, animation: false});
});
// stray horizontal rule in the last row
series.push({type: 'custom', xAxisIndex: 8, yAxisIndex: 16, data: [[strayRuleStart - 641, strayRuleBits]], clip: false, silent: true, animation: false,
  renderItem: function (params, api) {
    const p = api.coord([api.value(0), api.value(1)]);
    return {type: 'line', shape: {x1: p[0], y1: p[1], x2: 3758, y2: p[1]}, style: {stroke: '#000', lineWidth: 2.5}};
  }});

const chart = echarts.init(document.getElementById('c'), null, {renderer: 'canvas', width: 3758, height: 2667});
chart.setOption({
  backgroundColor: '#ffffff',
  animation: false,
  title: {text: creditText, right: 24, top: 2632, padding: 0,
    textStyle: {fontSize: 23, fontWeight: 'normal', fontFamily: LABEL_FONT, color: '#000'}},
  grid: grids, xAxis: xAxes, yAxis: yAxes, series: series
});
</script></body></html>
